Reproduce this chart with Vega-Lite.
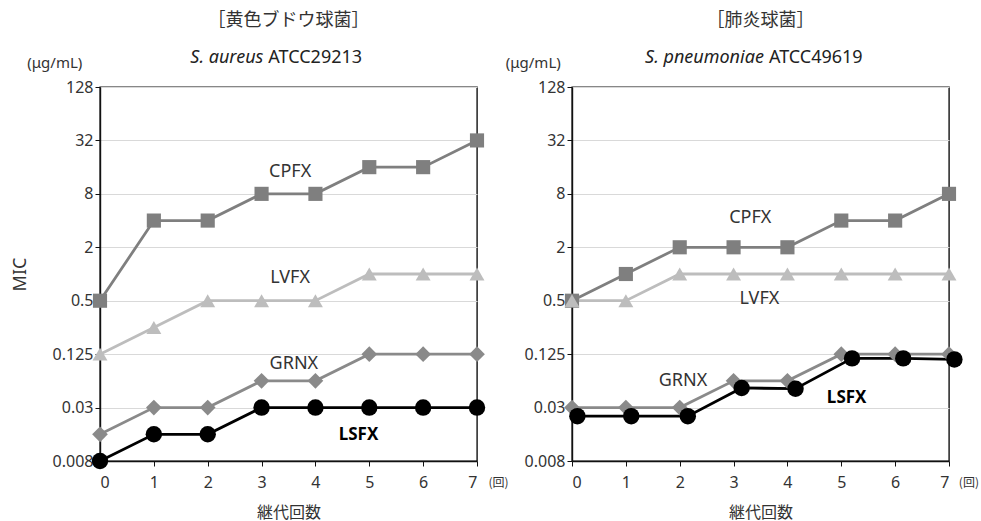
{
  "$schema": "https://vega.github.io/schema/vega-lite/v6.json",
  "padding": {"left": 10, "top": 11, "right": 5, "bottom": 5},
  "bounds": "flush",
  "spacing": 95,
  "config": {
    "font": "Noto Sans",
    "view": {"stroke": "#111", "strokeWidth": 1.4},
    "axis": {"labelFont": "Noto Sans", "labelFontSize": 16, "labelColor": "#333", "domainColor": "#111", "domainWidth": 1.4, "tickColor": "#111", "tickSize": 5, "titleFont": "Noto Sans CJK JP", "titleFontWeight": "normal", "titleColor": "#333", "titleFontSize": 16},
    "title": {"font": "Noto Sans CJK JP", "fontSize": 18, "fontWeight": "normal", "color": "#333", "anchor": "middle", "frame": "group", "offset": 19}
  },
  "datasets": {
    "mic": [
      {"panel": "L", "drug": "CPFX", "x": 0, "mic": 0.5},
      {"panel": "L", "drug": "CPFX", "x": 1, "mic": 4},
      {"panel": "L", "drug": "CPFX", "x": 2, "mic": 4},
      {"panel": "L", "drug": "CPFX", "x": 3, "mic": 8},
      {"panel": "L", "drug": "CPFX", "x": 4, "mic": 8},
      {"panel": "L", "drug": "CPFX", "x": 5, "mic": 16},
      {"panel": "L", "drug": "CPFX", "x": 6, "mic": 16},
      {"panel": "L", "drug": "CPFX", "x": 7, "mic": 32},
      {"panel": "L", "drug": "LVFX", "x": 0, "mic": 0.125},
      {"panel": "L", "drug": "LVFX", "x": 1, "mic": 0.25},
      {"panel": "L", "drug": "LVFX", "x": 2, "mic": 0.5},
      {"panel": "L", "drug": "LVFX", "x": 3, "mic": 0.5},
      {"panel": "L", "drug": "LVFX", "x": 4, "mic": 0.5},
      {"panel": "L", "drug": "LVFX", "x": 5, "mic": 1},
      {"panel": "L", "drug": "LVFX", "x": 6, "mic": 1},
      {"panel": "L", "drug": "LVFX", "x": 7, "mic": 1},
      {"panel": "L", "drug": "GRNX", "x": 0, "mic": 0.015625},
      {"panel": "L", "drug": "GRNX", "x": 1, "mic": 0.03125},
      {"panel": "L", "drug": "GRNX", "x": 2, "mic": 0.03125},
      {"panel": "L", "drug": "GRNX", "x": 3, "mic": 0.0625},
      {"panel": "L", "drug": "GRNX", "x": 4, "mic": 0.0625},
      {"panel": "L", "drug": "GRNX", "x": 5, "mic": 0.125},
      {"panel": "L", "drug": "GRNX", "x": 6, "mic": 0.125},
      {"panel": "L", "drug": "GRNX", "x": 7, "mic": 0.125},
      {"panel": "L", "drug": "LSFX", "x": 0, "mic": 0.0078125},
      {"panel": "L", "drug": "LSFX", "x": 1, "mic": 0.015625},
      {"panel": "L", "drug": "LSFX", "x": 2, "mic": 0.015625},
      {"panel": "L", "drug": "LSFX", "x": 3, "mic": 0.03125},
      {"panel": "L", "drug": "LSFX", "x": 4, "mic": 0.03125},
      {"panel": "L", "drug": "LSFX", "x": 5, "mic": 0.03125},
      {"panel": "L", "drug": "LSFX", "x": 6, "mic": 0.03125},
      {"panel": "L", "drug": "LSFX", "x": 7, "mic": 0.03125},
      {"panel": "R", "drug": "CPFX", "x": 0, "mic": 0.5},
      {"panel": "R", "drug": "CPFX", "x": 1, "mic": 1},
      {"panel": "R", "drug": "CPFX", "x": 2, "mic": 2},
      {"panel": "R", "drug": "CPFX", "x": 3, "mic": 2},
      {"panel": "R", "drug": "CPFX", "x": 4, "mic": 2},
      {"panel": "R", "drug": "CPFX", "x": 5, "mic": 4},
      {"panel": "R", "drug": "CPFX", "x": 6, "mic": 4},
      {"panel": "R", "drug": "CPFX", "x": 7, "mic": 8},
      {"panel": "R", "drug": "LVFX", "x": 0, "mic": 0.5},
      {"panel": "R", "drug": "LVFX", "x": 1, "mic": 0.5},
      {"panel": "R", "drug": "LVFX", "x": 2, "mic": 1},
      {"panel": "R", "drug": "LVFX", "x": 3, "mic": 1},
      {"panel": "R", "drug": "LVFX", "x": 4, "mic": 1},
      {"panel": "R", "drug": "LVFX", "x": 5, "mic": 1},
      {"panel": "R", "drug": "LVFX", "x": 6, "mic": 1},
      {"panel": "R", "drug": "LVFX", "x": 7, "mic": 1},
      {"panel": "R", "drug": "GRNX", "x": 0, "mic": 0.03125},
      {"panel": "R", "drug": "GRNX", "x": 1, "mic": 0.03125},
      {"panel": "R", "drug": "GRNX", "x": 2, "mic": 0.03125},
      {"panel": "R", "drug": "GRNX", "x": 3, "mic": 0.0625},
      {"panel": "R", "drug": "GRNX", "x": 4, "mic": 0.0625},
      {"panel": "R", "drug": "GRNX", "x": 5, "mic": 0.125},
      {"panel": "R", "drug": "GRNX", "x": 6, "mic": 0.125},
      {"panel": "R", "drug": "GRNX", "x": 7, "mic": 0.125},
      {"panel": "R", "drug": "LSFX", "x": 0.1, "mic": 0.025},
      {"panel": "R", "drug": "LSFX", "x": 1.1, "mic": 0.025},
      {"panel": "R", "drug": "LSFX", "x": 2.15, "mic": 0.025},
      {"panel": "R", "drug": "LSFX", "x": 3.15, "mic": 0.052},
      {"panel": "R", "drug": "LSFX", "x": 4.15, "mic": 0.051},
      {"panel": "R", "drug": "LSFX", "x": 5.2, "mic": 0.112},
      {"panel": "R", "drug": "LSFX", "x": 6.15, "mic": 0.112},
      {"panel": "R", "drug": "LSFX", "x": 7.1, "mic": 0.109}
    ],
    "one": [{}]
  },
  "hconcat": [
    {
      "width": 377,
      "height": 374,
      "title": {"text": "［黄色ブドウ球菌］"},
      "encoding": {
        "x": {"type": "quantitative", "scale": {"domain": [0, 7], "nice": false, "zero": false},
              "axis": {"values": [0, 1, 2, 3, 4, 5, 6, 7], "format": "d", "grid": false, "title": "継代回数", "labelPadding": 8, "titlePadding": 14}},
        "y": {"type": "quantitative", "scale": {"type": "log", "base": 2, "domain": [0.0078125, 128], "nice": false},
              "axis": {"values": [0.0078125, 0.03125, 0.125, 0.5, 2, 8, 32, 128], "labelExpr": "datum.value < 0.01 ? '0.008' : datum.value < 0.05 ? '0.03' : format(datum.value, '~g')", "grid": true, "gridColor": "#d9d9d9", "title": "MIC", "titleFont": "Noto Sans", "titleFontSize": 18, "titlePadding": 23}}
      },
      "layer": [
        {"data": {"name": "mic"}, "transform": [{"filter": "datum.panel == 'L'"}],
         "mark": {"type": "line", "strokeWidth": 2.8},
         "encoding": {"x": {"field": "x", "type": "quantitative"}, "y": {"field": "mic", "type": "quantitative"},
           "color": {"field": "drug", "type": "nominal", "scale": {"domain": ["CPFX", "LVFX", "GRNX", "LSFX"], "range": ["#7f7f7f", "#bdbdbd", "#8a8a8a", "#000000"]}, "legend": null}}},
        {"data": {"name": "mic"}, "transform": [{"filter": "datum.panel == 'L'"}],
         "mark": {"type": "point", "filled": true, "opacity": 1},
         "encoding": {"x": {"field": "x", "type": "quantitative"}, "y": {"field": "mic", "type": "quantitative"},
           "color": {"field": "drug", "type": "nominal", "scale": {"domain": ["CPFX", "LVFX", "GRNX", "LSFX"], "range": ["#7a7a7a", "#bbbbbb", "#888888", "#000000"]}, "legend": null},
           "shape": {"field": "drug", "type": "nominal", "scale": {"domain": ["CPFX", "LVFX", "GRNX", "LSFX"], "range": ["square", "triangle-up", "diamond", "circle"]}, "legend": null},
           "size": {"field": "drug", "type": "nominal", "scale": {"domain": ["CPFX", "LVFX", "GRNX", "LSFX"], "range": [200, 270, 300, 230]}, "legend": null}
         }},
        {"data": {"name": "one"}, "mark": {"type": "text", "fontSize": 18, "color": "#333"},
         "encoding": {"x": {"datum": 3.53}, "y": {"datum": 14}, "text": {"value": "CPFX"}}},
        {"data": {"name": "one"}, "mark": {"type": "text", "fontSize": 18, "color": "#333"},
         "encoding": {"x": {"datum": 3.53}, "y": {"datum": 0.9}, "text": {"value": "LVFX"}}},
        {"data": {"name": "one"}, "mark": {"type": "text", "fontSize": 18, "color": "#333"},
         "encoding": {"x": {"datum": 3.6}, "y": {"datum": 0.097}, "text": {"value": "GRNX"}}},
        {"data": {"name": "one"}, "mark": {"type": "text", "fontSize": 17, "fontWeight": "bold", "color": "#000"},
         "encoding": {"x": {"datum": 4.8}, "y": {"datum": 0.0155}, "text": {"value": "LSFX"}}},
        {"data": {"name": "one"}, "mark": {"type": "text", "fontSize": 18, "fontStyle": "italic", "align": "right", "dx": -2, "color": "#222"},
         "encoding": {"x": {"datum": 3.07}, "y": {"datum": 272}, "text": {"value": "S. aureus"}}},
        {"data": {"name": "one"}, "mark": {"type": "text", "fontSize": 18, "align": "left", "dx": 3, "color": "#222"},
         "encoding": {"x": {"datum": 3.07}, "y": {"datum": 272}, "text": {"value": "ATCC29213"}}},
        {"data": {"name": "one"}, "mark": {"type": "text", "fontSize": 15, "color": "#333"},
         "encoding": {"x": {"datum": -0.84}, "y": {"datum": 240}, "text": {"value": "(μg/mL)"}}},
        {"data": {"name": "one"}, "mark": {"type": "text", "fontSize": 12, "font": "Noto Sans CJK JP", "color": "#333"},
         "encoding": {"x": {"datum": 7.4}, "y": {"datum": 0.0044}, "text": {"value": "(回)"}}}
      ]
    },
    {
      "width": 377,
      "height": 374,
      "title": {"text": "［肺炎球菌］"},
      "encoding": {
        "x": {"type": "quantitative", "scale": {"domain": [0, 7], "nice": false, "zero": false},
              "axis": {"values": [0, 1, 2, 3, 4, 5, 6, 7], "format": "d", "grid": false, "title": "継代回数", "labelPadding": 8, "titlePadding": 14}},
        "y": {"type": "quantitative", "scale": {"type": "log", "base": 2, "domain": [0.0078125, 128], "nice": false},
              "axis": {"values": [0.0078125, 0.03125, 0.125, 0.5, 2, 8, 32, 128], "labelExpr": "datum.value < 0.01 ? '0.008' : datum.value < 0.05 ? '0.03' : format(datum.value, '~g')", "grid": true, "gridColor": "#d9d9d9", "title": null}}
      },
      "layer": [
        {"data": {"name": "mic"}, "transform": [{"filter": "datum.panel == 'R'"}],
         "mark": {"type": "line", "strokeWidth": 2.8},
         "encoding": {"x": {"field": "x", "type": "quantitative"}, "y": {"field": "mic", "type": "quantitative"},
           "color": {"field": "drug", "type": "nominal", "scale": {"domain": ["CPFX", "LVFX", "GRNX", "LSFX"], "range": ["#7f7f7f", "#bdbdbd", "#8a8a8a", "#000000"]}, "legend": null}}},
        {"data": {"name": "mic"}, "transform": [{"filter": "datum.panel == 'R'"}],
         "mark": {"type": "point", "filled": true, "opacity": 1},
         "encoding": {"x": {"field": "x", "type": "quantitative"}, "y": {"field": "mic", "type": "quantitative"},
           "color": {"field": "drug", "type": "nominal", "scale": {"domain": ["CPFX", "LVFX", "GRNX", "LSFX"], "range": ["#7a7a7a", "#bbbbbb", "#888888", "#000000"]}, "legend": null},
           "shape": {"field": "drug", "type": "nominal", "scale": {"domain": ["CPFX", "LVFX", "GRNX", "LSFX"], "range": ["square", "triangle-up", "diamond", "circle"]}, "legend": null},
           "size": {"field": "drug", "type": "nominal", "scale": {"domain": ["CPFX", "LVFX", "GRNX", "LSFX"], "range": [200, 270, 300, 230]}, "legend": null}
         }},
        {"data": {"name": "one"}, "mark": {"type": "text", "fontSize": 18, "color": "#333"},
         "encoding": {"x": {"datum": 3.31}, "y": {"datum": 4.3}, "text": {"value": "CPFX"}}},
        {"data": {"name": "one"}, "mark": {"type": "text", "fontSize": 18, "color": "#333"},
         "encoding": {"x": {"datum": 3.48}, "y": {"datum": 0.52}, "text": {"value": "LVFX"}}},
        {"data": {"name": "one"}, "mark": {"type": "text", "fontSize": 18, "color": "#333"},
         "encoding": {"x": {"datum": 2.06}, "y": {"datum": 0.063}, "text": {"value": "GRNX"}}},
        {"data": {"name": "one"}, "mark": {"type": "text", "fontSize": 17, "fontWeight": "bold", "color": "#000"},
         "encoding": {"x": {"datum": 5.1}, "y": {"datum": 0.04}, "text": {"value": "LSFX"}}},
        {"data": {"name": "one"}, "mark": {"type": "text", "fontSize": 18, "fontStyle": "italic", "align": "right", "dx": -2, "color": "#222"},
         "encoding": {"x": {"datum": 3.6}, "y": {"datum": 272}, "text": {"value": "S. pneumoniae"}}},
        {"data": {"name": "one"}, "mark": {"type": "text", "fontSize": 18, "align": "left", "dx": 3, "color": "#222"},
         "encoding": {"x": {"datum": 3.6}, "y": {"datum": 272}, "text": {"value": "ATCC49619"}}},
        {"data": {"name": "one"}, "mark": {"type": "text", "fontSize": 15, "color": "#333"},
         "encoding": {"x": {"datum": -0.72}, "y": {"datum": 240}, "text": {"value": "(μg/mL)"}}},
        {"data": {"name": "one"}, "mark": {"type": "text", "fontSize": 12, "font": "Noto Sans CJK JP", "color": "#333"},
         "encoding": {"x": {"datum": 7.37}, "y": {"datum": 0.0044}, "text": {"value": "(回)"}}}
      ]
    }
  ]
}
